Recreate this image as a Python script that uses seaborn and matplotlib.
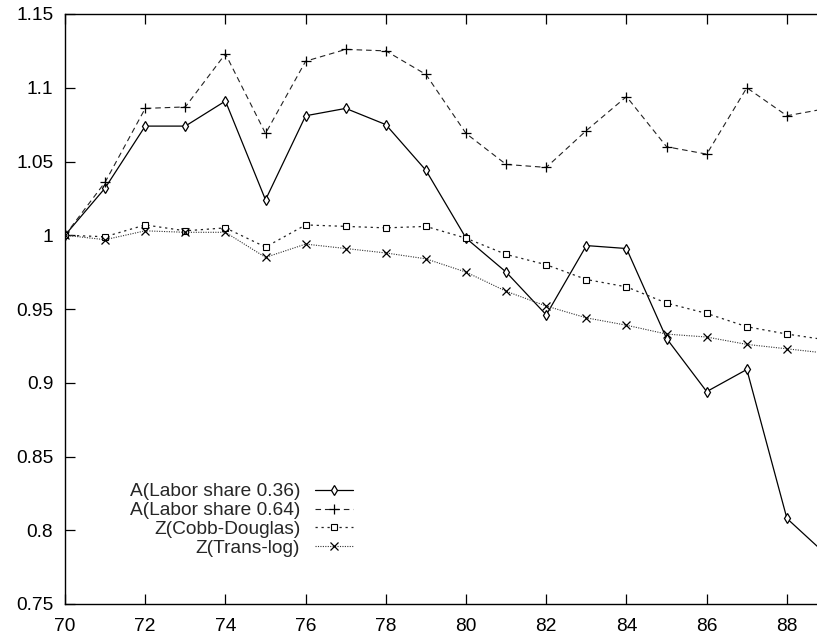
import matplotlib
matplotlib.use('Agg')
import matplotlib.pyplot as plt
import seaborn as sns
import pandas as pd

years = list(range(70, 90))
a_036 = [1.000, 1.032, 1.074, 1.074, 1.091, 1.024, 1.081, 1.086, 1.075, 1.044,
         0.998, 0.975, 0.946, 0.993, 0.991, 0.930, 0.894, 0.909, 0.808, 0.783]
a_064 = [1.000, 1.036, 1.086, 1.087, 1.123, 1.069, 1.118, 1.126, 1.125, 1.109,
         1.069, 1.048, 1.046, 1.071, 1.094, 1.060, 1.055, 1.100, 1.081, 1.086]
z_cobb = [1.000, 0.999, 1.007, 1.003, 1.005, 0.992, 1.007, 1.006, 1.005, 1.006,
          0.998, 0.987, 0.980, 0.970, 0.965, 0.954, 0.947, 0.938, 0.933, 0.929]
z_trans = [1.000, 0.997, 1.003, 1.002, 1.002, 0.985, 0.994, 0.991, 0.988, 0.984,
           0.975, 0.962, 0.952, 0.944, 0.939, 0.933, 0.931, 0.926, 0.923, 0.920]
labels = ['A(Labor share 0.36)', 'A(Labor share 0.64)', 'Z(Cobb-Douglas)', 'Z(Trans-log)']
x_ticks = list(range(70, 90, 2))
y_ticks = [0.75, 0.8, 0.85, 0.9, 0.95, 1, 1.05, 1.1, 1.15]

sns.set_style('ticks')
plt.rcParams['font.family'] = ['Liberation Sans', 'DejaVu Sans']

fig = plt.figure(figsize=(8.17, 6.37), dpi=100)
ax = fig.add_axes([65 / 817, 33 / 637, 752 / 817, 590 / 637])

series = [
    (a_036, dict(color='black', linewidth=0.9, linestyle='-', marker='d', markersize=5,
                 markerfacecolor='white', markeredgecolor='black', markeredgewidth=0.9)),
    (a_064, dict(color='#222222', linewidth=0.8, linestyle=(0, (5, 3.5)), marker='+', markersize=7,
                 markeredgecolor='black', markeredgewidth=0.9)),
    (z_cobb, dict(color='#222222', linewidth=0.9, linestyle=(0, (1.8, 3)), marker='s', markersize=5,
                  markerfacecolor='white', markeredgecolor='black', markeredgewidth=0.8)),
    (z_trans, dict(color='#333333', linewidth=0.8, linestyle=(0, (1, 1.2)), marker='x', markersize=6,
                   markeredgecolor='black', markeredgewidth=0.9)),
]
for (vals, style), lab in zip(series, labels):
    df = pd.DataFrame({'year': years, 'value': vals})
    sns.lineplot(data=df, x='year', y='value', ax=ax, label=lab, **style)

ax.set_xlim(70, 88.75)
ax.set_ylim(0.75, 1.15)
ax.set_xticks(x_ticks)
ax.set_xticklabels([str(t) for t in x_ticks])
ax.set_yticks(y_ticks)
ax.set_yticklabels(['0.75', '0.8', '0.85', '0.9', '0.95', '1', '1.05', '1.1', '1.15'])
ax.set_xlabel('')
ax.set_ylabel('')
ax.tick_params(axis='both', direction='in', length=7, width=0.9, labelsize=13.8,
               top=True, right=False, colors='black')
ax.tick_params(axis='y', pad=8.5)
ax.tick_params(axis='x', pad=10)
ax.spines['right'].set_visible(False)
for s in ['left', 'bottom', 'top']:
    ax.spines[s].set_linewidth(1.0)
    ax.spines[s].set_color('black')

leg = ax.legend(loc='upper right', bbox_to_anchor=(0.383, 0.205), frameon=False,
                markerfirst=False, fontsize=13.8, handlelength=2.0, handletextpad=0.75,
                labelspacing=0.07, borderaxespad=0, borderpad=0)

fig.savefig('out.png', dpi=100, facecolor='white')
